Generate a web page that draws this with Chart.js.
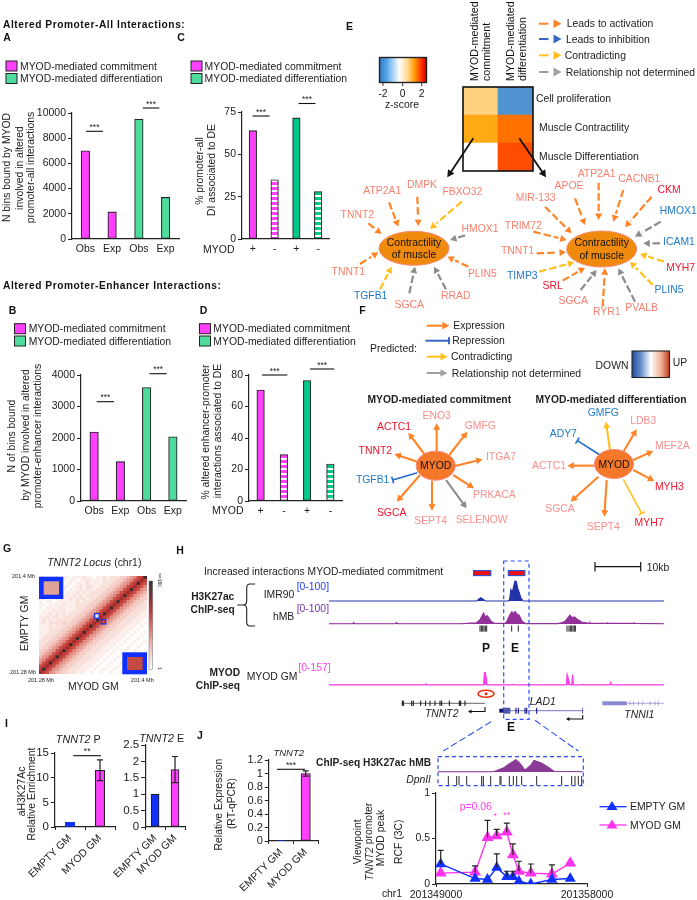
<!DOCTYPE html>
<html>
<head>
<meta charset="utf-8">
<title>MYOD figure</title>
<script src="https://cdn.jsdelivr.net/npm/chart.js@4"></script>
<style>
    html, body { margin: 0; padding: 0; background: #fff; }
    #page { position: relative; width: 697px; height: 900px; overflow: hidden; }
    #page canvas { position: absolute; }
    #overlay { position: absolute; left: 0; top: 0; }
    text { font-family: "Liberation Sans", Arial, sans-serif; fill: #222; }
</style>
</head>
<body>
<div id="page"><svg id="overlay" width="697" height="900" xmlns="http://www.w3.org/2000/svg"></svg></div>
<script>
// ---- panels A-D
const obsExp = ["Obs", "Exp", "Obs", "Exp"];
const plusMinus = ["+", "-", "+", "-"];
const panelA = [7000, 2150, 9500, 3300];
const panelB = [2190, 1250, 3600, 2040];
const panelC = [64, 35, 71.5, 28];
const panelD = [70.5, 29.5, 76.5, 23.5];

// ---- panel E heatmap (z-scores)
const heatRows = ["Cell proliferation", "Muscle Contractility", "Muscle Differentiation"];
const heatCols = ["MYOD-mediated commitment", "MYOD-mediated differentiation"];
const zCommitment = [0.8, 1.5, 0];
const zDifferentiation = [-2, 2, 2.5];

// ---- panel E / F gene names
const eLeftGenes = ["TNNT2", "ATP2A1", "DMPK", "FBXO32", "HMOX1", "PLIN5", "RRAD", "SGCA", "TGFB1", "TNNT1"];
const eRightGenes = ["MIR-133", "APOE", "ATP2A1", "CACNB1", "CKM", "HMOX1", "ICAM1", "MYH7", "PLIN5", "PVALB", "RYR1", "SGCA", "SRL", "TIMP3", "TNNT1", "TRIM72"];
const fLeftGenes = ["ENO3", "GMFG", "ITGA7", "PRKACA", "SELENOW", "SEPT4", "SGCA", "TGFB1", "TNNT2", "ACTC1"];
const fRightGenes = ["GMFG", "LDB3", "MEF2A", "MYH3", "MYH7", "SEPT4", "SGCA", "ACTC1", "ADY7"];

// ---- panel G contact map, one string per row, top to bottom (0 = empty, b = max)
const hicRows = [
    "11000101 10111211 01121222 3345689b",
    "10100101 01101121 11121223 345689a9",
    "01100110 11011121 11122233 45689b98",
    "10100101 10112122 11222334 5689a986",
    "11010011 01112121 12223345 689b9865",
    "10100110 11121212 22233456 89a98654",
    "01101011 11212122 22334568 9b986543",
    "11010111 12122212 23345689 a9865433",
    "10110111 11121222 3345689b 98654332",
    "11011112 11122223 345689a9 86543322",
    "10111121 11122233 45689b98 65433222",
    "01112112 11222334 5689a986 54332221",
    "11121212 12223345 689b9865 43322211",
    "11212212 22233456 89a98654 33222111",
    "12121222 22334568 9b986543 32221110",
    "12122223 23345689 a9865433 22211101",
    "11121222 3345689b 98654332 22111010",
    "11122223 345689a9 86543322 21110100",
    "11122233 45689b98 65433222 11101001",
    "11222334 5689a986 54332221 11010010",
    "12223345 689b9865 43322211 10100100",
    "22233456 89a98654 33222111 01001001",
    "22334568 9b986543 32221110 10010010",
    "23345689 a9865433 22211101 00100100",
    "3345689b 98654332 22111010 01001000",
    "345689a9 86543322 21110100 10010001",
    "45689b98 65433222 11101001 00100100",
    "5689a986 54332221 11010010 01001000",
    "689b9865 43322211 10100100 10010001",
    "89a98654 33222111 01001001 00100100",
    "9b986543 32221110 10010010 01001000",
    "a9865433 22211101 00100100 10010000",
].map((row) => row.replace(/ /g, ""));
const hicPalette = { 0: "#ffffff", 1: "#fcefeb", 2: "#f9e1db", 3: "#f5cfc7", 4: "#efb9b0", 5: "#e89d94", 6: "#e08a80", 7: "#d96b62", 8: "#c94f49", 9: "#c03a38", a: "#a02a2a", b: "#3e2c2c" };

// ---- panel H tracks (kb from left edge of the browser view, signal)
const imrKb = [0, 32.3, 32.7, 33.2, 33.7, 34.2, 39.2, 39.5, 39.8, 40.1, 40.4, 40.7, 41, 41.3, 41.6, 42, 42.5, 73.3];
const imrSignal = [0, 0, 8, 16, 9, 0, 0, 6, 55, 40, 70, 95, 92, 60, 42, 14, 0, 0];
const hmbKb = [0, 5.2, 5.4, 5.6, 14.5, 14.8, 15.1, 29, 31, 32.3, 33, 33.4, 33.8, 34.2, 34.6, 35, 35.4, 36.2, 38.6, 39, 39.5, 40, 40.3, 40.7, 41.1, 41.6, 42.2, 43, 50, 50.8, 51.6, 52.2, 52.7, 53.2, 53.7, 54.4, 55.4, 57, 57.1, 57.2, 60.8, 61, 61.2, 66.6, 66.8, 67, 73.3];
const hmbSignal = [1, 1, 7, 1, 1, 7, 1, 1, 4, 6, 20, 35, 52, 35, 40, 30, 14, 3, 3, 16, 42, 58, 48, 60, 48, 42, 15, 2, 2, 6, 12, 28, 42, 30, 34, 22, 8, 3, 7, 3, 3, 6, 3, 3, 5, 3, 1];
const myodKb = [0, 21, 21.2, 21.4, 33.8, 34, 34.2, 34.4, 34.6, 40.1, 40.3, 40.5, 51.9, 52.1, 52.3, 52.7, 53.1, 53.3, 53.5, 55.4, 55.6, 55.8, 61.4, 61.6, 61.9, 73.3];
const myodSignal = [1, 1, 10, 1, 1, 100, 100, 60, 1, 1, 6, 1, 1, 85, 60, 1, 1, 80, 1, 1, 6, 1, 1, 20, 1, 1];
const insetKb = [0, 3.0, 3.2, 3.6, 3.9, 4.3, 4.5, 4.8, 5.1, 5.3, 5.7, 6, 6.4, 8];
const insetSignal = [2, 2, 10, 30, 60, 95, 70, 15, 50, 90, 70, 45, 6, 2];

// ---- panel I
const gmLabels = ["EMPTY GM", "MYOD GM"];
const tnnt2P = [0.95, 11.5];
const tnnt2PLow = [0.85, 9.4];
const tnnt2PHigh = [1.05, 13.6];
const tnnt2E = [1, 1.75];
const tnnt2ELow = [1, 1.35];
const tnnt2EHigh = [1, 2.15];

// ---- panel J
const rtQpcr = [0.01, 1];
const rtQpcrLow = [0.005, 0.96];
const rtQpcrHigh = [0.015, 1.04];

// ---- 3C panel
const chr1Pos = [201349280, 201351330, 201352070, 201352620, 201353220, 201353580, 201353940, 201354650, 201355910, 201357000];
const rcfMyod = [0.12, 0.13, 0.51, 0.53, 0.57, 0.32, 0.14, 0.12, 0.11, 0.23];
const rcfMyodHigh = [0.12, 0.2, 0.7, 0.6, 0.67, 0.44, 0.25, 0.22, 0.21, 0.23];
const rcfEmpty = [0.22, 0.06, 0.05, 0.18, 0.08, 0.08, 0.03, 0, 0.05, 0.06];
const rcfEmptyHigh = [0.37, 0.06, 0.05, 0.33, 0.14, 0.14, 0.03, 0, 0.05, 0.06];

// ---- colours
const MAGENTA = "#ff40ff";
const GREEN_SOFT = "#4ddc9c";
const GREEN = "#00c98a";
const BLUE = "#1030ff";
const INK = "#222";
const SALMON = "#f8806f";
const PINK = "#fb8f8c";
const RED = "#f0142d";
const GENE_BLUE = "#1f78c8";
const ORANGE = "#ff8428";
const YELLOW = "#ffc020";
const GREY = "#8c8c8c";
const LINE_BLUE = "#3a66c8";
const DASH_BLUE = "#2b50f0";

Chart.defaults.font.family = '"Liberation Sans", Arial, sans-serif';
Chart.defaults.font.size = 10.5;
Chart.defaults.color = INK;
Chart.defaults.animation = false;
Chart.defaults.responsive = false;
Chart.defaults.plugins.legend.display = false;
Chart.defaults.plugins.tooltip.enabled = false;

const page = document.getElementById("page");

function addCanvas(left, top, width, height) {
    const c = document.createElement("canvas");
    c.width = width;
    c.height = height;
    c.style.left = left + "px";
    c.style.top = top + "px";
    page.insertBefore(c, document.getElementById("overlay"));
    return c.getContext("2d");
}

// horizontal stripes for the "-" bars
function stripes(color) {
    const p = document.createElement("canvas");
    p.width = 4;
    p.height = 5;
    const g = p.getContext("2d");
    g.fillStyle = "#fff";
    g.fillRect(0, 0, 4, 5);
    g.fillStyle = color;
    g.fillRect(0, 0, 4, 3);
    return g.createPattern(p, "repeat");
}

// error bars, read from dataset.errLow / dataset.errHigh
const errorBars = {
    id: "errorBars",
    afterDatasetsDraw(chart) {
        const ctx = chart.ctx;
        chart.data.datasets.forEach((ds, i) => {
            if (!ds.errHigh) return;
            const meta = chart.getDatasetMeta(i);
            const yScale = chart.scales.y;
            meta.data.forEach((el, k) => {
                const hi = yScale.getPixelForValue(ds.errHigh[k]);
                const lo = yScale.getPixelForValue(ds.errLow ? ds.errLow[k] : (ds.data[k].y ?? ds.data[k]));
                if (Math.abs(hi - lo) < 1) return;
                ctx.save();
                ctx.strokeStyle = "#222";
                ctx.lineWidth = 1.2;
                ctx.beginPath();
                ctx.moveTo(el.x, lo);
                ctx.lineTo(el.x, hi);
                ctx.moveTo(el.x - 3, hi);
                ctx.lineTo(el.x + 3, hi);
                if (ds.errLow) {
                    ctx.moveTo(el.x - 3, lo);
                    ctx.lineTo(el.x + 3, lo);
                }
                ctx.stroke();
                ctx.restore();
            });
        });
    },
};

// box = plot area on the page; the axes are fixed so the plot lands exactly there
function barPanel(box, labels, values, opts) {
    const leftW = box.leftW || 46;
    const botH = box.botH || 24;
    const topPad = 10;
    const rightPad = 8;
    const ctx = addCanvas(
        Math.round(box.x0) - leftW,
        Math.round(box.yTop) - topPad,
        Math.round(box.x1 - box.x0) + leftW + rightPad,
        Math.round(box.yBot - box.yTop) + topPad + botH
    );
    return new Chart(ctx, {
        type: "bar",
        data: {
            labels: labels,
            datasets: [{
                data: values,
                backgroundColor: opts.colors,
                borderColor: opts.border || INK,
                borderWidth: 1.1,
                borderSkipped: false,
                barThickness: box.barW,
                errLow: opts.errLow,
                errHigh: opts.errHigh,
            }],
        },
        plugins: [errorBars],
        options: {
            layout: { padding: { top: topPad, right: rightPad, left: 0, bottom: 0 } },
            scales: {
                x: {
                    grid: opts.rotated
                        ? { drawOnChartArea: false, tickLength: 3, color: INK, offset: true }
                        : { display: false, drawTicks: false, tickLength: 0 },
                    border: { color: INK, width: 1.2 },
                    ticks: opts.rotated
                        ? { minRotation: 45, maxRotation: 45, autoSkip: false, padding: 2, font: { size: 10.5 } }
                        : { padding: 4, maxRotation: 0, autoSkip: false, font: { size: opts.xSize || 10.5 } },
                    afterFit: (s) => { s.height = botH; },
                },
                y: {
                    min: 0,
                    max: opts.max,
                    grid: { drawOnChartArea: false, tickLength: 4, color: INK },
                    border: { color: INK, width: 1.2 },
                    ticks: {
                        stepSize: opts.step,
                        padding: 2,
                        autoSkip: false,
                        font: { size: opts.ySize || 10.5 },
                        callback: (v) => String(+v.toFixed(2)),
                    },
                    afterFit: (s) => { s.width = leftW; },
                },
            },
        },
    });
}

barPanel({ x0: 72, x1: 178.5, yTop: 112.7, yBot: 238.7, barW: 8.5 }, obsExp, panelA,
    { colors: [MAGENTA, MAGENTA, GREEN_SOFT, GREEN_SOFT], max: 10000, step: 2000 });
barPanel({ x0: 242, x1: 329, yTop: 111.7, yBot: 238.7, barW: 7.5 }, plusMinus, panelC,
    { colors: [MAGENTA, stripes(MAGENTA), GREEN, stripes(GREEN)], max: 75, step: 25 });
barPanel({ x0: 80.5, x1: 185.5, yTop: 374.7, yBot: 500.7, barW: 8.5 }, obsExp, panelB,
    { colors: [MAGENTA, MAGENTA, GREEN_SOFT, GREEN_SOFT], max: 4000, step: 1000 });
barPanel({ x0: 249, x1: 341.5, yTop: 374.7, yBot: 500.7, barW: 7.5 }, plusMinus, panelD,
    { colors: [MAGENTA, stripes(MAGENTA), GREEN, stripes(GREEN)], max: 80, step: 20 });

barPanel({ x0: 55, x1: 115, yTop: 753.3, yBot: 827.3, barW: 9.3, botH: 60 }, gmLabels, tnnt2P,
    { colors: [BLUE, MAGENTA], border: [BLUE, INK], max: 15, step: 5, rotated: true, ySize: 11.5, errLow: tnnt2PLow, errHigh: tnnt2PHigh });
barPanel({ x0: 136, x1: 185, yTop: 745.3, yBot: 827.3, barW: 8, botH: 60, leftW: 30 }, gmLabels, tnnt2E,
    { colors: [BLUE, MAGENTA], max: 2.5, step: 0.5, rotated: true, ySize: 11.5, errLow: tnnt2ELow, errHigh: tnnt2EHigh });
barPanel({ x0: 261.7, x1: 318, yTop: 760, yBot: 841, barW: 9.3, botH: 58, leftW: 30 }, gmLabels, rtQpcr,
    { colors: [BLUE, MAGENTA], max: 1.2, step: 0.2, rotated: true, ySize: 11, errLow: rtQpcrLow, errHigh: rtQpcrHigh });

// ---- heatmap E, stacked cells coloured by z-score
const zStops = [[-2, [79, 148, 209]], [0, [255, 255, 255]], [0.8, [255, 210, 127]], [1.5, [255, 169, 20]], [2, [255, 114, 0]], [2.5, [255, 77, 0]]];
function zColor(z) {
    for (let i = 1; i < zStops.length; i++) {
        if (z <= zStops[i][0]) {
            const [a, ca] = zStops[i - 1];
            const [b, cb] = zStops[i];
            const t = (z - a) / (b - a);
            return "rgb(" + ca.map((v, k) => Math.round(v + (cb[k] - v) * t)).join(",") + ")";
        }
    }
    return "rgb(255,77,0)";
}
new Chart(addCanvas(463, 87, 70, 84), {
    type: "bar",
    data: {
        labels: heatCols,
        datasets: heatRows.map((row, i) => ({
            label: row,
            data: [1, 1],
            backgroundColor: [zColor(zCommitment[i]), zColor(zDifferentiation[i])],
            borderWidth: 0,
            barPercentage: 1,
            categoryPercentage: 1,
        })).reverse(),
    },
    options: {
        scales: {
            x: { display: false, stacked: true },
            y: { display: false, stacked: true, min: 0, max: 3 },
        },
    },
});

// ---- contact map G, stacked cells
const hicCols = hicRows[0].split("").map((_, i) => i);
new Chart(addCanvas(39, 576, 108, 98), {
    type: "bar",
    data: {
        labels: hicCols,
        datasets: hicRows.map((row) => ({
            data: hicCols.map(() => 1),
            backgroundColor: hicCols.map((c) => hicPalette[row[c]]),
            borderWidth: 0,
            barPercentage: 1,
            categoryPercentage: 1,
        })).reverse(),
    },
    options: {
        scales: {
            x: { display: false, stacked: true },
            y: { display: false, stacked: true, min: 0, max: hicRows.length },
        },
    },
});

// ---- signal tracks H
function track(kb, signal, color, box) {
    const h = box.yBase - box.yTop + 2;
    new Chart(addCanvas(box.x0, box.yTop, box.x1 - box.x0, h), {
        type: "line",
        data: {
            datasets: [{
                data: kb.map((k, i) => ({ x: k, y: signal[i] })),
                borderColor: color,
                backgroundColor: color,
                borderWidth: 1.1,
                pointRadius: 0,
                fill: "origin",
                tension: 0,
            }],
        },
        options: {
            parsing: false,
            scales: {
                x: { type: "linear", display: false, min: 0, max: box.kbMax },
                y: { display: false, min: (-100 * 2) / (h - 2), max: 100 },
            },
        },
    });
}
track(imrKb, imrSignal, "#2233aa", { x0: 329, x1: 664, yTop: 580, yBase: 601, kbMax: 73.3 });
track(hmbKb, hmbSignal, "#93309a", { x0: 329, x1: 664, yTop: 603, yBase: 624, kbMax: 73.3 });
track(myodKb, myodSignal, "#ff40e8", { x0: 329, x1: 664, yTop: 672, yBase: 685, kbMax: 73.3 });
track(insetKb, insetSignal, "#8a3a96", { x0: 438, x1: 583, yTop: 759, yBase: 772, kbMax: 8 });

// ---- 3C line chart
new Chart(addCanvas(390, 783, 230, 117), {
    type: "scatter",
    data: {
        datasets: [
            {
                data: chr1Pos.map((p, i) => ({ x: p, y: rcfEmpty[i] })),
                errHigh: rcfEmptyHigh,
                showLine: true,
                borderColor: BLUE,
                backgroundColor: BLUE,
                borderWidth: 1.4,
                pointStyle: "triangle",
                pointRadius: 5,
            },
            {
                data: chr1Pos.map((p, i) => ({ x: p, y: rcfMyod[i] })),
                errHigh: rcfMyodHigh,
                showLine: true,
                borderColor: "#ff33ee",
                backgroundColor: "#ff33ee",
                borderWidth: 1.4,
                pointStyle: "triangle",
                pointRadius: 5.5,
            },
        ],
    },
    plugins: [errorBars],
    options: {
        layout: { padding: { top: 10, right: 33, left: 0, bottom: 0 } },
        scales: {
            x: {
                type: "linear",
                min: 201349000,
                max: 201358000,
                grid: { drawOnChartArea: false, tickLength: 3, color: INK },
                border: { color: INK, width: 1.2 },
                ticks: { stepSize: 9000, maxRotation: 0, padding: 2, callback: (v) => String(v) },
                afterFit: (s) => { s.height = 16; },
            },
            y: {
                min: 0,
                max: 1,
                grid: { drawOnChartArea: false, tickLength: 4, color: INK },
                border: { color: INK, width: 1.2 },
                ticks: { stepSize: 0.5, padding: 2, callback: (v) => String(v) },
                afterFit: (s) => { s.width = 46; },
            },
        },
    },
});

// ---- everything schematic goes to the svg overlay
let svg = "";
function t(x, y, str, o = {}) {
    const rot = o.rot ? ` transform="rotate(${o.rot} ${x} ${y})"` : "";
    svg += `<text x="${x}" y="${y}" dominant-baseline="central" text-anchor="${o.anchor || "start"}" font-size="${o.size || 10.4}" font-weight="${o.weight || "normal"}" font-style="${o.style || "normal"}" letter-spacing="${o.ls || 0}" style="fill:${o.fill || INK}"${rot}>${str}</text>`;
}
function line(x1, y1, x2, y2, color = INK, w = 1.2, dash = "") {
    svg += `<line x1="${x1}" y1="${y1}" x2="${x2}" y2="${y2}" stroke="${color}" stroke-width="${w}"${dash ? ` stroke-dasharray="${dash}"` : ""}/>`;
}
function rect(x, y, w, h, fill, stroke = "none", sw = 1, dash = "") {
    svg += `<rect x="${x}" y="${y}" width="${w}" height="${h}" fill="${fill}" stroke="${stroke}" stroke-width="${sw}"${dash ? ` stroke-dasharray="${dash}"` : ""}/>`;
}
function head(x1, y1, x2, y2, color, size) {
    const a = Math.atan2(y2 - y1, x2 - x1);
    const pts = [[x2, y2],
        [x2 - size * Math.cos(a) + size * 0.55 * Math.sin(a), y2 - size * Math.sin(a) - size * 0.55 * Math.cos(a)],
        [x2 - size * Math.cos(a) - size * 0.55 * Math.sin(a), y2 - size * Math.sin(a) + size * 0.55 * Math.cos(a)]];
    svg += `<polygon points="${pts.map((p) => p.join(",")).join(" ")}" fill="${color}"/>`;
}
function arrow(x1, y1, x2, y2, color, o = {}) {
    const size = o.size || 6;
    const a = Math.atan2(y2 - y1, x2 - x1);
    const back = size * (o.dash ? 1.3 : 0.8);
    line(x1, y1, x2 - back * Math.cos(a), y2 - back * Math.sin(a), color, o.w || 1.8, o.dash || "");
    head(x1, y1, x2, y2, color, size);
}
function tBar(x1, y1, x2, y2, color, w = 1.4) {
    const a = Math.atan2(y2 - y1, x2 - x1);
    const dx = 3.5 * Math.sin(a);
    const dy = 3.5 * Math.cos(a);
    line(x1, y1, x2, y2, color, w);
    line(x2 - dx, y2 + dy, x2 + dx, y2 - dy, color, w);
}
// coordinates below were measured on 3x crops, ox/oy is the crop origin
const zx = (ox, v) => ox + v / 3;

// section titles and panel letters
const head1 = { weight: "bold", size: 10.2, ls: 0.55, fill: "#111" };
t(3, 24.5, "Altered Promoter-All Interactions:", head1);
t(3, 285.5, "Altered Promoter-Enhancer Interactions:", head1);
[["A", 7, 37], ["C", 181, 37], ["B", 12.5, 310], ["D", 203.5, 310], ["E", 349.5, 26], ["F", 362.5, 310], ["G", 7, 548], ["H", 180, 550], ["I", 6.5, 723], ["J", 200, 735]]
    .forEach(([s, x, y]) => t(x, y, s, { weight: "bold", size: 10.5, anchor: "middle", fill: "#111" }));

// bar panel legends
function barLegend(sx, tx, y1, y2) {
    [[y1, MAGENTA, "MYOD-mediated commitment"], [y2, GREEN_SOFT, "MYOD-mediated differentiation"]].forEach(([y, c, s]) => {
        rect(sx, y - 5, 11, 10, c, "#222", 1);
        t(tx, y, s);
    });
}
barLegend(6, 20, 66, 78.5);
barLegend(191, 204.6, 66, 78.5);
barLegend(14.5, 28.7, 328.7, 341);
barLegend(199.5, 213.3, 328.7, 341);

// rotated axis titles
const v = (x, y, s, o = {}) => t(x, y, s, { rot: -90, anchor: "middle", ...o });
v(6, 167.5, "N bins bound by MYOD");
v(19, 168, "involved in altered");
v(30.5, 167.5, "promoter-all interactions");
v(199, 171, "% promoter-all");
v(211.5, 170, "DI associated to DE");
v(11.7, 436, "N of bins bound");
v(25, 435, "by MYOD involved in altered");
v(37.3, 436, "promoter-enhancer interactions");
v(205, 432, "% altered enhancer-promoter");
v(217.3, 431, "interactions associated to DE");
v(21, 791.5, "aH3K27Ac");
v(31.7, 794, "Relative Enrichment");
v(218.3, 804.5, "Relative Expression");
v(231.7, 803.5, "(RT-qPCR)");
t(203, 248.5, "MYOD", { size: 10.5 });
t(212, 509.5, "MYOD", { size: 10.5 });

// significance bars
function sig(x1, x2, y, s = "***", size = 8.5) {
    line(x1, y, x2, y, "#111", 1.1);
    t((x1 + x2) / 2, y - 4.5, s, { anchor: "middle", size: size });
}
sig(86, 103, 131.3);
sig(142.7, 159.3, 108);
sig(252.5, 269.5, 116);
sig(298.5, 315.5, 103.5);
sig(96.7, 114, 401.7);
sig(149.5, 166.7, 373.7);
sig(262, 287.3, 375);
sig(310, 334.3, 369);
sig(73.3, 101, 755.7, "**");
sig(277, 305, 769.3);

// colour bar and heatmap labels
svg += `<defs>
<linearGradient id="zBar"><stop offset="0" stop-color="#3579c4"/><stop offset=".15" stop-color="#52a5ea"/><stop offset=".42" stop-color="#fff"/><stop offset=".6" stop-color="#ffd890"/><stop offset=".75" stop-color="#ff9a00"/><stop offset=".9" stop-color="#ff2a00"/><stop offset="1" stop-color="#c80000"/></linearGradient>
<linearGradient id="upDown"><stop offset="0" stop-color="#1c4c9c"/><stop offset=".25" stop-color="#6c94cc"/><stop offset=".5" stop-color="#fff"/><stop offset=".78" stop-color="#eeb094"/><stop offset="1" stop-color="#c43a22"/></linearGradient>
<linearGradient id="hicBar" x1="0" y1="0" x2="0" y2="1"><stop offset="0" stop-color="#333"/><stop offset=".35" stop-color="#c03a38"/><stop offset=".7" stop-color="#eeb0a8"/><stop offset="1" stop-color="#fff"/></linearGradient>
</defs>`;
rect(379.5, 57.5, 47, 25, "url(#zBar)", "#222", 1.4);
[[383, "-2"], [402.7, "0"], [421.7, "2"]].forEach(([x, s]) => {
    line(x, 83, x, 86, INK, 0.9);
    t(x, 93, s, { anchor: "middle" });
});
t(402, 104, "z-score", { anchor: "middle" });
rect(463, 87, 70, 84, "none", "#111", 1.6);
t(473.5, 81, "MYOD-mediated", { rot: -90, size: 10.7, fill: "#111" });
t(485.8, 81, "commitment", { rot: -90, size: 10.7, fill: "#111" });
t(509.5, 81, "MYOD-mediated", { rot: -90, size: 10.7, fill: "#111" });
t(521.8, 81, "differentiation", { rot: -90, size: 10.7, fill: "#111" });
t(536, 98, heatRows[0]);
t(539, 127, heatRows[1]);
t(539, 156, heatRows[2]);
arrow(473.3, 138.3, 447.3, 177.3, "#111", { w: 1.8, size: 7 });
arrow(519.3, 138.3, 546, 177.3, "#111", { w: 1.8, size: 7 });

// E legend
[[23.7, ORANGE, "Leads to activation", 566.7], [39, LINE_BLUE, "Leads to inhibition", 566], [55.3, YELLOW, "Contradicting", 564.7], [72, "#a0a0a0", "Relationship not determined", 565.7]].forEach(([y, c, s, x]) => {
    line(539, y, 548.5, y, c, 2);
    head(552, y, 561.5, y, c, 8);
    t(x, y, s);
});

// networks
function ellipse(cx, cy, rx, ry, fill, label) {
    svg += `<ellipse cx="${cx}" cy="${cy}" rx="${rx}" ry="${ry}" fill="${fill}" stroke="#f48a7a" stroke-width="1"/>`;
    label.forEach((s, i) => t(cx, cy + (i - (label.length - 1) / 2) * 12.5, s, { anchor: "middle", fill: "#111", size: 10.4 }));
}
const colorOf = { s: SALMON, p: PINK, r: RED, b: GENE_BLUE, o: ORANGE, y: YELLOW, g: GREY, l: "#1f6cc8" };

// label x, y, text colour, arrow colour, arrow x1, y1, x2, y2 (crop coords, same order as the gene arrays)
const eLeftLayout = [
    [52, 642, "s", "o", 85, 670, 125, 702], [127, 570, "s", "o", 147, 607, 175, 680], [246, 552, "s", "o", 232, 590, 235, 678],
    [367, 573, "s", "y", 365, 605, 270, 687], [420, 685, "s", "g", 375, 706, 330, 720], [427, 820, "s", "o", 385, 800, 322, 770],
    [347, 887, "s", "g", 318, 868, 282, 800], [208, 912, "s", "g", 208, 880, 225, 800], [92, 885, "b", "y", 120, 868, 155, 800],
    [25, 813, "s", "o", 60, 792, 115, 757],
];
const eRightLayout = [
    [587, 593, "s", "o", 615, 620, 695, 700], [687, 555, "s", "o", 705, 595, 735, 675], [770, 520, "s", "o", 776, 548, 776, 660],
    [898, 535, "s", "o", 850, 570, 820, 665], [987, 567, "r", "o", 935, 590, 855, 682], [1015, 632, "b", "g", 962, 665, 885, 710],
    [1017, 723, "b", "g", 960, 730, 910, 730], [1022, 802, "r", "y", 972, 785, 900, 762], [987, 869, "b", "y", 938, 855, 870, 785],
    [905, 922, "s", "g", 885, 905, 835, 805], [800, 933, "s", "o", 788, 920, 795, 805], [700, 900, "s", "g", 722, 870, 770, 810],
    [638, 857, "r", "o", 668, 842, 735, 803], [547, 827, "b", "y", 597, 815, 703, 787], [533, 750, "s", "o", 590, 760, 678, 757],
    [550, 675, "s", "o", 580, 695, 680, 720],
];
function dashedNet(genes, layout) {
    layout.forEach((l, i) => {
        arrow(zx(340, l[4]), l[5] / 3, zx(340, l[6]), l[7] / 3, colorOf[l[3]], { dash: "7.5 3", size: 6.5, w: 2.2 });
        t(zx(340, l[0]), l[1] / 3, genes[i], { anchor: "middle", fill: colorOf[l[2]] });
    });
}
dashedNet(eLeftGenes, eLeftLayout);
dashedNet(eRightGenes, eRightLayout);
ellipse(414, 248.3, 35, 17, "#f08a0c", ["Contractility", "of muscle"]);
ellipse(601.7, 249, 35, 18, "#f08a0c", ["Contractility", "of muscle"]);

// F legend
t(393.5, 348.5, "Predicted:", { anchor: "middle" });
arrow(426.7, 325.7, 449.3, 325.7, ORANGE, { w: 2, size: 7 });
t(453.3, 325.7, "Expression");
tBar(425.5, 340.7, 449, 340.7, LINE_BLUE, 2);
t(452.3, 340.7, "Repression");
arrow(426.7, 356.7, 447.5, 356.7, YELLOW, { w: 2, size: 7 });
t(451, 356.7, "Contradicting");
arrow(426.7, 373, 447.5, 373, "#a0a0a0", { w: 2, size: 7 });
t(451.7, 373, "Relationship not determined");
t(612, 365, "DOWN", { anchor: "middle" });
rect(632, 351, 37.5, 26.5, "url(#upDown)", "#222", 1.1);
t(680, 362.7, "UP", { anchor: "middle" });
t(439.3, 399, "MYOD-mediated commitment", { anchor: "middle", weight: "bold", size: 10.3 });
t(611, 399.3, "MYOD-mediated differentiation", { anchor: "middle", weight: "bold", size: 10.3 });

// label x, y, text colour, arrow colour, x1, y1, x2, y2, kind (crop coords)
const fLeftLayout = [
    [290, 285, "p", "o", 290, 395, 290, 310], [421, 315, "p", "o", 328, 405, 382, 335], [483, 408, "p", "o", 345, 438, 428, 418],
    [463, 522, "p", "o", 340, 465, 402, 505], [425, 597, "p", "g", 318, 480, 380, 565], [272, 600, "p", "o", 276, 482, 276, 572],
    [155, 577, "r", "o", 240, 465, 170, 545], [98, 477, "b", "l", 232, 458, 158, 480, "t"], [106, 392, "r", "o", 232, 425, 163, 402],
    [162, 318, "r", "o", 255, 405, 205, 338],
];
const fRightLayout = [
    [790, 276, "b", "y", 810, 392, 798, 305], [910, 301, "p", "o", 850, 395, 890, 328], [997, 375, "p", "o", 880, 420, 940, 393],
    [988, 500, "r", "o", 880, 450, 943, 483], [927, 608, "r", "y", 850, 478, 905, 580, "t"], [790, 620, "p", "o", 800, 480, 793, 590],
    [660, 565, "p", "o", 775, 470, 692, 545], [627, 437, "p", "o", 765, 437, 682, 437], [670, 341, "b", "l", 780, 405, 712, 362, "t"],
];
function solidNet(genes, layout) {
    layout.forEach((l, i) => {
        const y = (n) => 320 + n / 3;
        if (l[8] === "t") tBar(zx(340, l[4]), y(l[5]), zx(340, l[6]), y(l[7]), colorOf[l[3]], 1.6);
        else arrow(zx(340, l[4]), y(l[5]), zx(340, l[6]), y(l[7]), colorOf[l[3]], { w: 2.1, size: 6.5 });
        t(zx(340, l[0]), y(l[1]), genes[i], { anchor: "middle", fill: colorOf[l[2]] });
    });
}
solidNet(fLeftGenes, fLeftLayout);
solidNet(fRightGenes, fRightLayout);
ellipse(435.7, 465.7, 19.5, 14.5, "#f5772a", ["MYOD"]);
ellipse(614, 464, 19.5, 14.5, "#f5772a", ["MYOD"]);

// panel G decorations
t(94.3, 562.3, '<tspan font-style="italic">TNNT2 Locus</tspan> (chr1)', { anchor: "middle", size: 10.4 });
v(25, 623.3, "EMPTY GM");
t(93.3, 686, "MYOD GM", { anchor: "middle" });
t(35, 575.7, "201.4 Mb", { anchor: "end", size: 5.5 });
t(36, 671.7, "201.28 Mb", { anchor: "end", size: 5.5 });
t(41, 679.5, "201.28 Mb", { anchor: "middle", size: 5.5 });
t(142.3, 679.5, "201.4 Mb", { anchor: "middle", size: 5.5 });
rect(39, 576.7, 24.3, 22.3, BLUE);
rect(43.7, 581.3, 15.3, 13.4, "#e0a398");
rect(122.3, 652.3, 24.7, 22, BLUE);
rect(127, 657, 15.7, 13, "#c24a42");
rect(94.6, 613.6, 4.6, 4.6, "#f8e0da", BLUE, 1.2);
rect(101.3, 619.6, 4.4, 4.4, "#c24a42", BLUE, 1.2);
rect(149, 581, 3.7, 88.3, "url(#hicBar)", "#777", 0.5);
t(159.5, 580, "&gt;=160", { rot: 90, size: 5, anchor: "middle" });
t(159.5, 668.5, "1", { rot: 90, size: 5, anchor: "middle" });

// panel H decorations
t(204, 571.7, "Increased interactions MYOD-mediated commitment", { size: 10.3 });
rect(473.6, 570.6, 17.2, 5, "#f01010", "#2a50d0", 1.1);
rect(508.3, 570.6, 16.6, 5, "#f01010", "#2a50d0", 1.1);
rect(503.7, 561, 25.3, 158.3, "none", DASH_BLUE, 1.2, "4 3");
line(595, 566.7, 640.7, 566.7, "#111", 1.2);
line(595, 562, 595, 571.5, "#111", 1.2);
line(640.7, 562, 640.7, 571.5, "#111", 1.2);
t(646.7, 567, "10kb");
t(212.7, 596.7, "H3K27ac", { anchor: "middle", weight: "bold", size: 10.2 });
t(212.7, 609, "ChIP-seq", { anchor: "middle", weight: "bold", size: 10.2 });
svg += `<path d="M255 584 H250 Q246.7 584 246.7 588 V601 Q246.7 605 243 605 H237.3 M243 605 Q246.7 605 246.7 609 V622 Q246.7 626 250 626 H255" fill="none" stroke="#222" stroke-width="1.1"/>`;
t(294.3, 594.3, "IMR90", { anchor: "end" });
t(296.7, 586.7, "[0-100]", { fill: "#2a44e8" });
t(294.3, 616, "hMB", { anchor: "end" });
t(296.7, 608, "[0-100]", { fill: "#7a30a8" });
t(240, 672.7, "MYOD", { anchor: "end", weight: "bold", size: 10.2 });
t(240, 685, "ChIP-seq", { anchor: "end", weight: "bold", size: 10.2 });
t(246.7, 676.3, "MYOD GM");
t(298.3, 667.3, "[0-157]", { fill: "#ff40e8" });
// black boxes under hMB
const hx = (n) => 190 + n / 3;
[870, 874, 878, 882, 886, 890, 965, 985, 1131, 1137, 1141, 1145, 1149, 1153, 1156].forEach((n) => line(hx(n), 625.5, hx(n), 631.7, "#111", 0.9));
t(486, 648.3, "P", { anchor: "middle", weight: "bold", size: 12, fill: "#111" });
t(515, 648.3, "E", { anchor: "middle", weight: "bold", size: 12, fill: "#111" });
// eye
svg += `<ellipse cx="486" cy="693.7" rx="8" ry="3.5" fill="#fff" stroke="#e83010" stroke-width="1.6"/><circle cx="486" cy="693.7" r="1.5" fill="#e83010"/>`;
// genes
const geneY = 703.3;
line(hx(635), geneY, hx(885), geneY, "#222", 0.7);
[637, 640, 665, 670, 692, 707, 720, 735, 750, 755, 778, 808, 812, 825].forEach((n) => line(hx(n), geneY - 2.7, hx(n), geneY + 2.7, "#111", 1));
t(441.7, 713.7, "TNNT2", { anchor: "middle", style: "italic" });
svg += `<path d="M485 707 V711.5 H469" fill="none" stroke="#111" stroke-width="1.1"/>`;
head(480, 711.5, 468, 711.5, "#111", 3.5);
const ladY = 710.7;
line(hx(928), ladY, hx(1178), ladY, "#3a3aa8", 0.7);
rect(hx(928), ladY - 2, 6, 4, "#10107c");
rect(hx(940), ladY - 3, 7, 6, "#5058b0");
[978, 985, 1005, 1010, 1040].forEach((n) => line(hx(n), ladY - 3, hx(n), ladY + 3, "#10107c", 1.1));
line(hx(1178), ladY - 3, hx(1178), ladY + 3, "#3a3aa8", 0.8);
t(542.7, 701, "LAD1", { anchor: "middle", style: "italic" });
svg += `<path d="M582.7 715 V719 H567" fill="none" stroke="#111" stroke-width="1.1"/>`;
head(577, 719, 566, 719, "#111", 3.5);
rect(hx(1237), geneY - 2, 24.5, 4, "#8a8ad0");
line(hx(1310), geneY, hx(1422), geneY, "#8a8ad0", 0.7);
[1320, 1330, 1345, 1358, 1380, 1395, 1405].forEach((n) => line(hx(n), geneY - 2, hx(n), geneY + 2, "#8a8ad0", 0.8));
t(639.3, 714, "TNNI1", { anchor: "middle", style: "italic" });
t(511, 726.7, "E", { anchor: "middle", weight: "bold", size: 12, fill: "#111" });
line(491, 721.7, 443.3, 751, DASH_BLUE, 1.1, "7 3");
line(535, 720.3, 578.3, 751, DASH_BLUE, 1.1, "7 3");
rect(438, 756.7, 145.3, 29, "none", DASH_BLUE, 1.2, "4 3");
t(431, 762.3, "ChIP-seq H3K27ac hMB", { anchor: "end", weight: "bold", size: 10.2 });
t(431, 779, "DpnII", { anchor: "end", style: "italic" });
[445, 470, 477, 500, 545, 550, 572, 600, 603, 628, 640, 650, 665, 710, 785, 815, 825, 835, 845].forEach((n) => line(300 + n / 3, 776, 300 + n / 3, 785, "#111", 0.9));

// panel I / J titles
t(78.3, 739, '<tspan font-style="italic">TNNT2</tspan> P', { anchor: "middle", size: 10.8 });
t(161.7, 738.3, '<tspan font-style="italic">TNNT2</tspan> E', { anchor: "middle", size: 10.8 });
t(288.7, 752.7, "TNNT2", { anchor: "middle", style: "italic", size: 9.5 });

// 3C labels
v(357.3, 841.7, "Viewpoint");
v(369, 841.7, '<tspan font-style="italic">TNNT2</tspan> promoter');
v(380, 838, "MYOD peak");
v(398.3, 841.7, "RCF  (3C)");
t(392, 893.3, "chr1", { anchor: "middle" });
t(475.7, 806.7, "p=0.06", { anchor: "middle", fill: "#ff40e8" });
t(495.3, 816, "*", { anchor: "middle", fill: "#ff40e8", size: 9 });
t(506.7, 815, "**", { anchor: "middle", fill: "#ff40e8", size: 9 });
function tri(x, y, c) {
    svg += `<polygon points="${x},${y - 5} ${x + 5.5},${y + 4} ${x - 5.5},${y + 4}" fill="${c}"/>`;
}
line(599.5, 806.7, 626.5, 806.7, BLUE, 1.3);
tri(612, 806, BLUE);
t(630, 806, "EMPTY GM");
line(599.5, 825, 626.5, 825, "#ff33ee", 1.3);
tri(612, 824.5, "#ff33ee");
t(630, 825, "MYOD GM");

document.getElementById("overlay").innerHTML = svg;
</script>
</body>
</html>
